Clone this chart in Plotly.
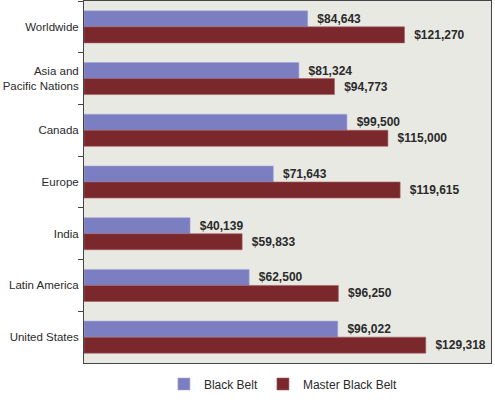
import plotly.graph_objects as go

regions = ["Worldwide", "Asia and<br>Pacific Nations", "Canada", "Europe",
           "India", "Latin America", "United States"]
black_belt = [84643, 81324, 99500, 71643, 40139, 62500, 96022]
master_black_belt = [121270, 94773, 115000, 119615, 59833, 96250, 129318]

bb_color = "#7b7ec0"
mbb_color = "#7b282d"

fig = go.Figure()
fig.add_trace(go.Bar(
    y=regions, x=black_belt, orientation="h", name="Black Belt",
    marker=dict(color=bb_color, line=dict(color="#a6a8d6", width=0.6)),
    texttemplate="  <b>$%{x:,}</b>", textposition="outside",
    textfont=dict(size=12, color="#2a2a2a"), cliponaxis=False,
))
fig.add_trace(go.Bar(
    y=regions, x=master_black_belt, orientation="h", name="Master Black Belt",
    marker=dict(color=mbb_color, line=dict(color="#a56065", width=0.6)),
    texttemplate="  <b>$%{x:,}</b>", textposition="outside",
    textfont=dict(size=12, color="#2a2a2a"), cliponaxis=False,
))

fig.update_layout(
    width=495, height=400,
    margin=dict(l=84, r=4, t=1, b=26),
    paper_bgcolor="white",
    plot_bgcolor="#e9e9e4",
    barmode="group", bargap=0.38, bargroupgap=0,
    font=dict(family="Liberation Sans, Arial, sans-serif", size=12, color="#2a2a2a"),
    showlegend=True,
    legend=dict(orientation="h", traceorder="normal", x=0.49, xanchor="center",
                y=-0.018, yanchor="top", font=dict(size=12, color="#2a2a2a"),
                itemwidth=30),
)
fig.update_xaxes(range=[0, 154000], showticklabels=False, showgrid=False,
                 zeroline=False, showline=True, linecolor="#444", linewidth=1,
                 mirror=True, ticks="", automargin=False)
fig.update_yaxes(autorange="reversed", showgrid=False, showline=True,
                 linecolor="#444", linewidth=1, mirror=True,
                 ticks="outside", tickson="boundaries", ticklen=5,
                 tickcolor="#444", tickfont=dict(size=11.5, color="#2a2a2a"),
                 ticklabelstandoff=2, automargin=False)

# page has default 8px body margin, drop it so the chart sits at the corner
fig.write_html("out.html", config={"displayModeBar": False},
               post_script="document.body.style.margin='0';")
